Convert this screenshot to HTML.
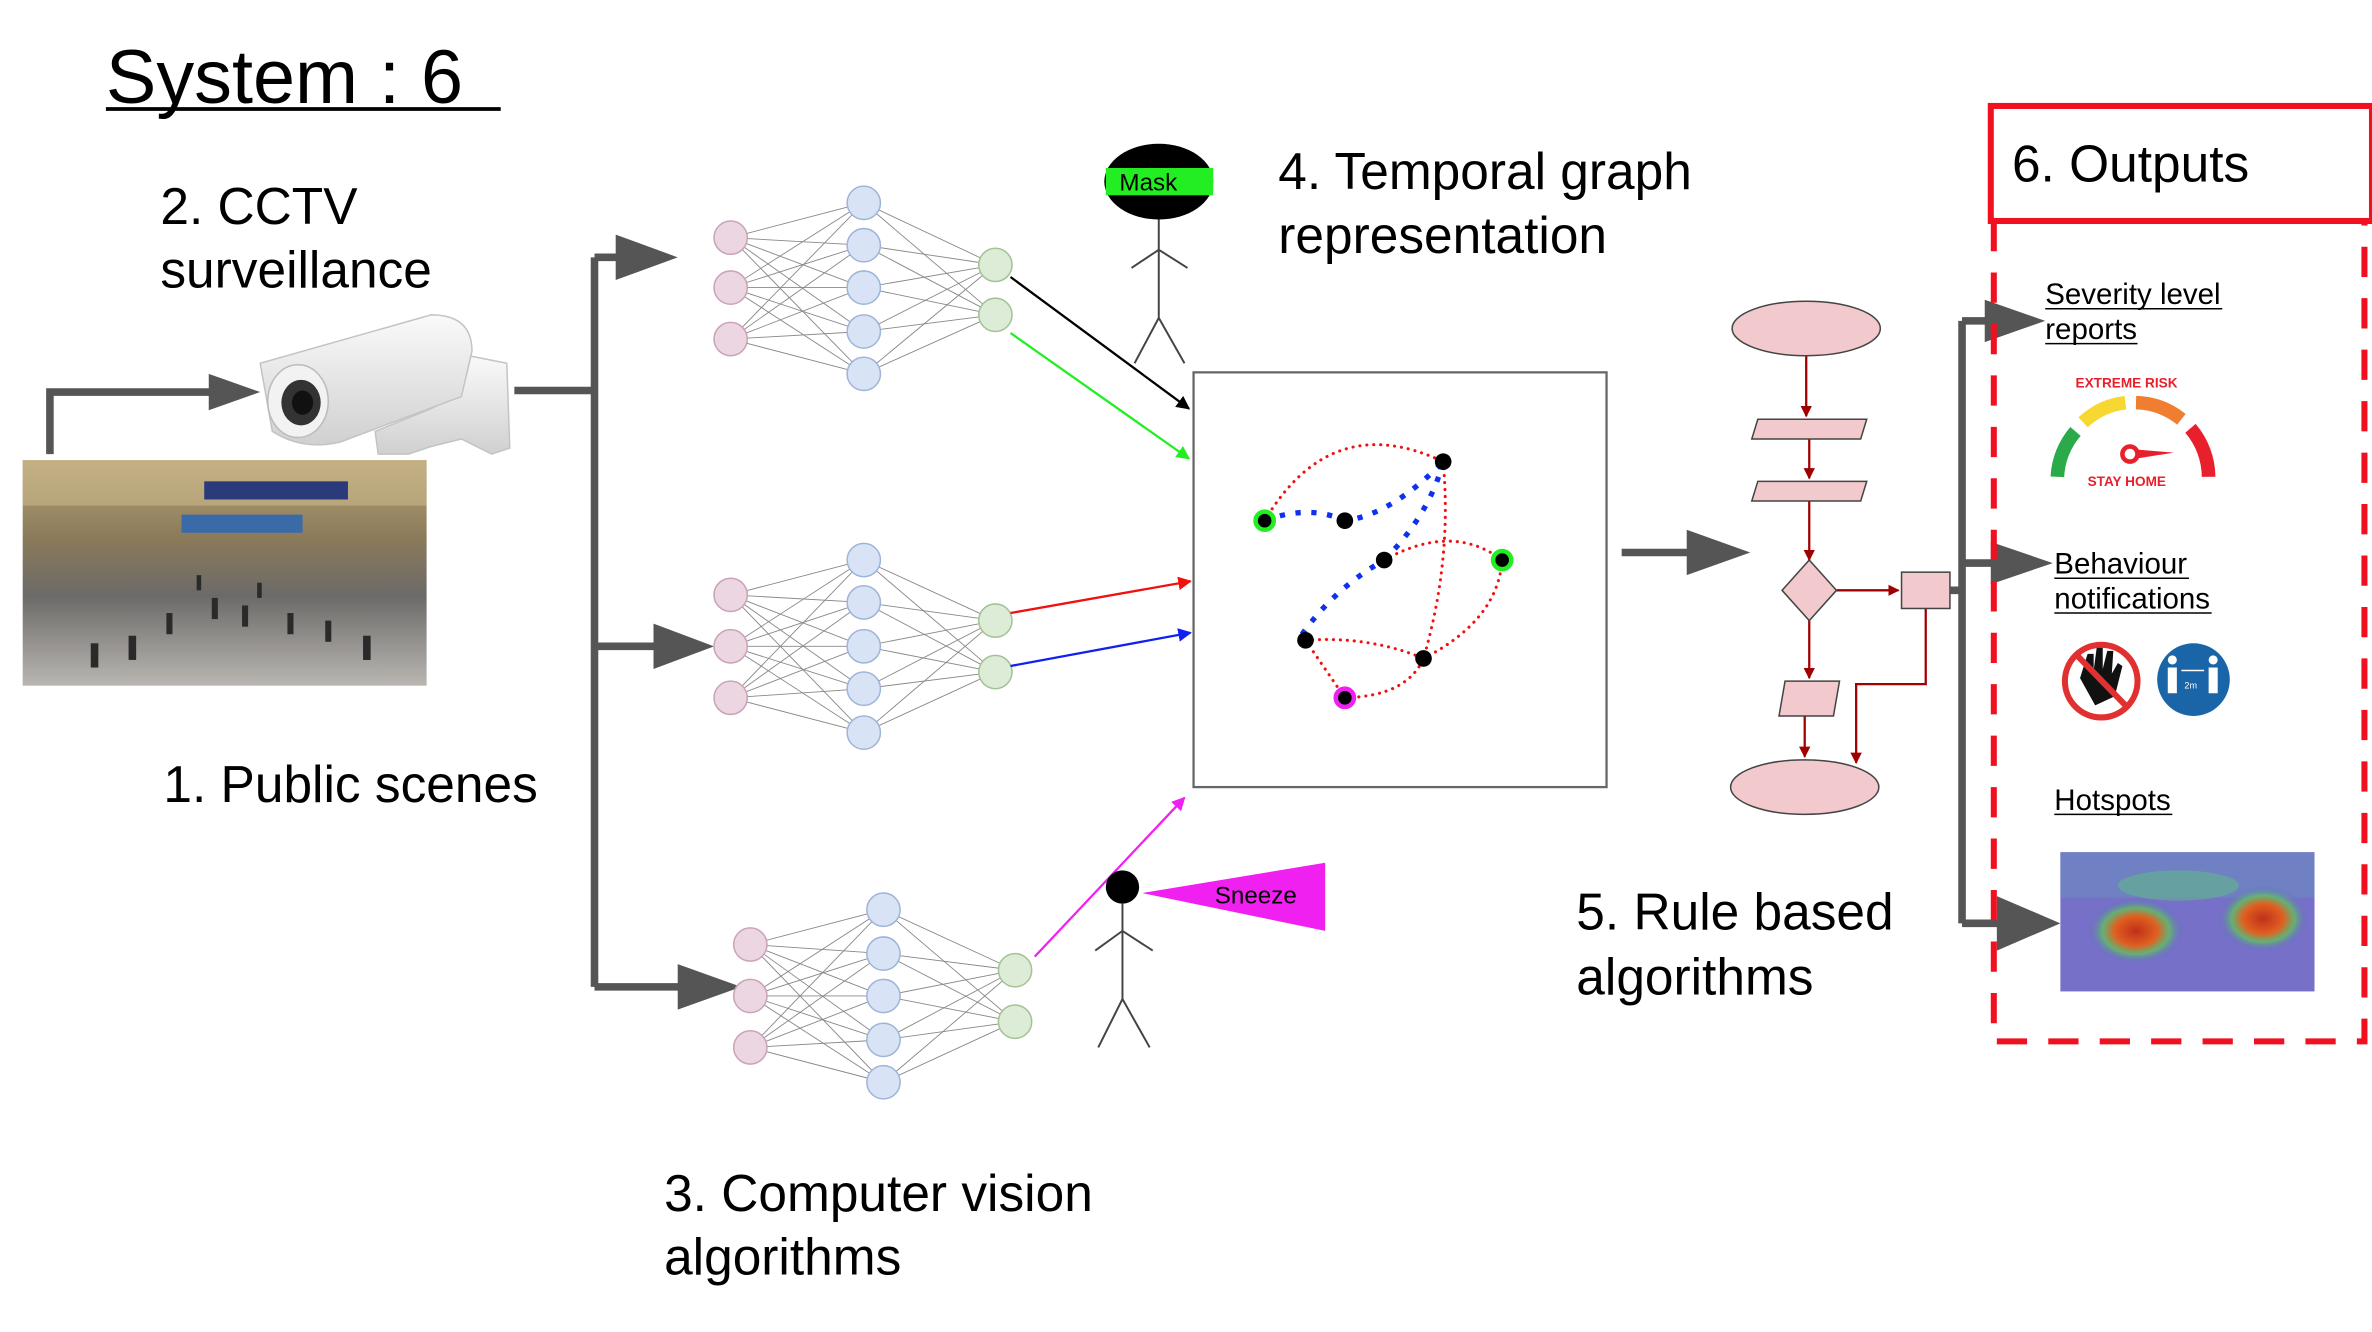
<!DOCTYPE html>
<html><head><meta charset="utf-8"><style>
html,body{margin:0;padding:0;background:#fff;}
svg{display:block;}
text{font-family:"Liberation Sans",Arial,sans-serif;}
</style></head><body>
<svg id="s" width="2372" height="1332" viewBox="0 0 1568 880" preserveAspectRatio="none" xmlns="http://www.w3.org/2000/svg">
<defs>
<linearGradient id="ph" x1="0" y1="0" x2="0" y2="1">
<stop offset="0" stop-color="#b8a477"/><stop offset="0.35" stop-color="#8a7a5a"/><stop offset="0.6" stop-color="#6c6a68"/><stop offset="1" stop-color="#b9b6b2"/></linearGradient>
<linearGradient id="cam" x1="0" y1="0" x2="0" y2="1"><stop offset="0" stop-color="#fafafa"/><stop offset="1" stop-color="#d0d0d0"/></linearGradient>
<radialGradient id="hot"><stop offset="0" stop-color="#c0301a"/><stop offset="0.45" stop-color="#e06020"/><stop offset="0.7" stop-color="#60c060" stop-opacity="0.8"/><stop offset="1" stop-color="#6060d0" stop-opacity="0"/></radialGradient>
<marker id="mk" viewBox="0 0 10 10" refX="9" refY="5" markerWidth="6" markerHeight="6" orient="auto"><path d="M0,0L10,5L0,10z" fill="context-stroke"/></marker>
<marker id="mr" viewBox="0 0 10 10" refX="9" refY="5" markerWidth="5" markerHeight="5" orient="auto"><path d="M0,0L10,5L0,10z" fill="#a00000"/></marker>
</defs>

<text x="70" y="68" font-size="50">System : 6</text>
<line x1="70" y1="72" x2="331" y2="72" stroke="#000" stroke-width="2.5"/>
<g font-size="34">
<text x="106" y="148">2. CCTV</text>
<text x="106" y="190">surveillance</text>
<text x="108" y="530">1. Public scenes</text>
<text x="845" y="125">4. Temporal graph</text>
<text x="845" y="167">representation</text>
<text x="1042" y="614">5. Rule based</text>
<text x="1042" y="657">algorithms</text>
<text x="439" y="800">3. Computer vision</text>
<text x="439" y="842">algorithms</text>
</g>

<rect x="15" y="304" width="267" height="149" fill="url(#ph)"/>
<rect x="15" y="304" width="267" height="30" fill="#c9b88a" opacity="0.6"/>
<rect x="135" y="318" width="95" height="12" fill="#2a3a7a"/>
<rect x="120" y="340" width="80" height="12" fill="#3a6aa8"/>
<g fill="#2a2a2a"><rect x="60" y="425" width="5" height="16"/><rect x="85" y="420" width="5" height="16"/><rect x="110" y="405" width="4" height="14"/><rect x="140" y="395" width="4" height="14"/><rect x="160" y="400" width="4" height="14"/><rect x="190" y="405" width="4" height="14"/><rect x="215" y="410" width="4" height="14"/><rect x="240" y="420" width="5" height="16"/><rect x="130" y="380" width="3" height="10"/><rect x="170" y="385" width="3" height="10"/></g>

<path d="M33,300 V259 H140" fill="none" stroke="#555" stroke-width="5"/>
<path d="M138,247 L172,259 L138,271z" fill="#555"/>
<path d="M310,235 L335,240 L337,296 L325,300 L305,290 L285,295 L270,300 L250,300 L248,285 L285,270 L300,262z" fill="url(#cam)" stroke="#c4c4c4"/>
<path d="M172,240 L285,208 Q312,208 312,232 L305,262 L225,292 Q200,298 180,285z" fill="url(#cam)" stroke="#c4c4c4"/>
<ellipse cx="197" cy="265" rx="20" ry="24" fill="#f2f2f2" stroke="#bbb"/>
<ellipse cx="199" cy="266" rx="13" ry="15" fill="#333"/>
<ellipse cx="200" cy="266" rx="7" ry="8" fill="#111"/>
<path d="M340,258 H393 M393,170 V652" fill="none" stroke="#555" stroke-width="5"/>
<path d="M393,170 H410 M393,427 H435 M393,652 H452" stroke="#555" stroke-width="5"/>
<path d="M407,155 L448,170 L407,185z M432,412 L472,427 L432,442z M448,637 L490,652 L448,667z" fill="#555"/>

<g id="nets"></g>

<line x1="668" y1="183" x2="786" y2="270" stroke="#000" stroke-width="1.5" marker-end="url(#mk)"/>
<line x1="668" y1="220" x2="786" y2="303" stroke="#22ee22" stroke-width="1.5" marker-end="url(#mk)"/>
<line x1="668" y1="405" x2="787" y2="384" stroke="#f01010" stroke-width="1.5" marker-end="url(#mk)"/>
<line x1="668" y1="440" x2="787" y2="418" stroke="#1020f0" stroke-width="1.5" marker-end="url(#mk)"/>
<line x1="684" y1="632" x2="783" y2="527" stroke="#f020f0" stroke-width="1.5" marker-end="url(#mk)"/>

<ellipse cx="766" cy="120" rx="36" ry="25" fill="#000"/>
<rect x="731" y="111" width="71" height="18" fill="#22ee22"/>
<text x="740" y="126" font-size="16">Mask</text>
<path d="M766,145V210 M748,177L766,165L785,177 M766,210L750,240 M766,210L783,240" stroke="#444" stroke-width="1.3" fill="none"/>
<circle cx="742" cy="586" r="11" fill="#000"/>
<path d="M742,597V660 M724,628L742,615L762,628 M742,660L726,692 M742,660L760,692" stroke="#444" stroke-width="1.3" fill="none"/>
<path d="M755,590L876,570L876,615z" fill="#f020f0"/>
<text x="803" y="597" font-size="16">Sneeze</text>

<rect x="789" y="246" width="273" height="274" fill="none" stroke="#666" stroke-width="1.5"/>
<g fill="none" stroke="#f01010" stroke-width="2" stroke-dasharray="0.1 4.5" stroke-linecap="round">
<path d="M836,344 Q880,270 954,305"/>
<path d="M954,305 Q960,370 941,435"/>
<path d="M915,370 Q960,345 993,370"/>
<path d="M993,370 Q990,410 941,435"/>
<path d="M863,423 Q905,420 941,435"/>
<path d="M863,423 L889,461"/>
<path d="M889,461 Q930,460 941,435"/>
</g>
<path d="M836,344 Q865,333 889,344 Q920,340 954,305 M954,305 Q945,340 915,370 Q880,390 858,423" fill="none" stroke="#1030f0" stroke-width="3.5" stroke-dasharray="3.5 7"/>
<circle cx="836" cy="344" r="6" fill="#000" stroke="#22ee22" stroke-width="3"/>
<circle cx="993" cy="370" r="6" fill="#000" stroke="#22ee22" stroke-width="3"/>
<circle cx="889" cy="461" r="6" fill="#000" stroke="#f020f0" stroke-width="3"/>
<g fill="#000"><circle cx="889" cy="344" r="5.5"/><circle cx="954" cy="305" r="5.5"/><circle cx="915" cy="370" r="5.5"/><circle cx="863" cy="423" r="5.5"/><circle cx="941" cy="435" r="5.5"/></g>

<line x1="1072" y1="365" x2="1120" y2="365" stroke="#555" stroke-width="5"/>
<path d="M1115,350L1157,365L1115,380z" fill="#555"/>

<g stroke="#a00000" stroke-width="1.5" fill="none">
<line x1="1194" y1="235" x2="1194" y2="275" marker-end="url(#mr)"/>
<line x1="1196" y1="290" x2="1196" y2="316" marker-end="url(#mr)"/>
<line x1="1196" y1="331" x2="1196" y2="370" marker-end="url(#mr)"/>
<line x1="1196" y1="410" x2="1196" y2="448" marker-end="url(#mr)"/>
<line x1="1193" y1="473" x2="1193" y2="500" marker-end="url(#mr)"/>
<line x1="1214" y1="390" x2="1255" y2="390" marker-end="url(#mr)"/>
<path d="M1273,402V452H1227V504" marker-end="url(#mr)"/>
</g>
<g fill="#f2c9cc" stroke="#444" stroke-width="1">
<ellipse cx="1194" cy="217" rx="49" ry="18"/>
<path d="M1162,277H1234L1230,290H1158z"/>
<path d="M1162,318H1234L1230,331H1158z"/>
<path d="M1196,370L1214,390L1196,410L1178,390z"/>
<path d="M1180,450H1216L1212,473H1176z"/>
<ellipse cx="1193" cy="520" rx="49" ry="18"/>
<rect x="1257" y="378" width="32" height="24"/>
</g>

<path d="M1289,390H1297 M1297,212V610 M1297,212H1320 M1297,372H1325 M1297,610H1330" stroke="#555" stroke-width="5" fill="none"/>
<path d="M1312,198L1352,212L1312,226z M1316,358L1357,372L1316,386z M1320,592L1362,610L1320,628z" fill="#555"/>

<rect x="1316" y="70" width="252" height="76" fill="none" stroke="#f01020" stroke-width="4"/>
<text x="1330" y="120" font-size="34">6. Outputs</text>
<path d="M1318,146V688H1563V146" fill="none" stroke="#f01020" stroke-width="4" stroke-dasharray="20 14"/>

<g font-size="19.5">
<text x="1352" y="201">Severity level</text><text x="1352" y="224">reports</text>
<text x="1358" y="379">Behaviour</text><text x="1358" y="402">notifications</text>
<text x="1358" y="535">Hotspots</text>
</g>
<g stroke="#000" stroke-width="1"><line x1="1352" y1="204" x2="1469" y2="204"/><line x1="1352" y1="227" x2="1413" y2="227"/><line x1="1358" y1="382" x2="1447" y2="382"/><line x1="1358" y1="405" x2="1462" y2="405"/><line x1="1358" y1="538" x2="1436" y2="538"/></g>

<text x="1372" y="256" font-size="9" font-weight="bold" fill="#e8202c">EXTREME RISK</text>
<g fill="none" stroke-width="9">
<path d="M1360,315 A50,50 0 0 1 1372,285" stroke="#2aaa48"/>
<path d="M1377,279 A50,50 0 0 1 1405,266" stroke="#f6d830"/>
<path d="M1412,266 A50,50 0 0 1 1442,277" stroke="#f07e30"/>
<path d="M1448,283 A50,50 0 0 1 1460,315" stroke="#e8202c"/>
</g>
<circle cx="1408" cy="300" r="5" fill="none" stroke="#e8202c" stroke-width="3"/>
<path d="M1412,297L1437,299L1412,303z" fill="#e8202c"/>
<text x="1380" y="321" font-size="9" font-weight="bold" fill="#e8202c">STAY HOME</text>

<circle cx="1389" cy="450" r="24" fill="#fff" stroke="#e03030" stroke-width="4"/>
<path d="M1375,448 L1380,432 L1384,432 L1384,443 L1386,428 L1390,428 L1390,442 L1393,430 L1397,430 L1396,445 L1400,438 L1403,440 L1398,460 L1385,466z" fill="#111"/>
<line x1="1373" y1="433" x2="1406" y2="467" stroke="#e03030" stroke-width="4"/>
<circle cx="1450" cy="449" r="24" fill="#1a64a8"/>
<g fill="#fff"><rect x="1433" y="441" width="6" height="17"/><circle cx="1436" cy="436" r="3"/><rect x="1460" y="441" width="6" height="17"/><circle cx="1463" cy="436" r="3"/></g>
<line x1="1442" y1="443" x2="1457" y2="443" stroke="#fff" stroke-width="1"/>
<text x="1444" y="455" font-size="6" fill="#fff">2m</text>

<rect x="1362" y="563" width="168" height="92" fill="#7670c8"/>
<rect x="1362" y="563" width="168" height="30" fill="#6a8ac0" opacity="0.6"/>
<ellipse cx="1412" cy="615" rx="32" ry="22" fill="url(#hot)"/>
<ellipse cx="1496" cy="607" rx="30" ry="22" fill="url(#hot)"/>
<ellipse cx="1440" cy="585" rx="40" ry="10" fill="#60c080" opacity="0.5"/>
</svg>
<script>
var ns="http://www.w3.org/2000/svg",g=document.getElementById("nets");
function el(t,a){var e=document.createElementNS(ns,t);for(var k in a)e.setAttribute(k,a[k]);g.appendChild(e);return e;}
function net(x0,x1,x2,A,B,C){
 A.forEach(function(a){B.forEach(function(b){el("line",{x1:x0,y1:a,x2:x1,y2:b,stroke:"#888","stroke-width":0.6});});});
 B.forEach(function(b){C.forEach(function(c){el("line",{x1:x1,y1:b,x2:x2,y2:c,stroke:"#888","stroke-width":0.6});});});
 A.forEach(function(a){el("circle",{cx:x0,cy:a,r:11,fill:"#ecd6e2",stroke:"#c9a3b8"});});
 B.forEach(function(b){el("circle",{cx:x1,cy:b,r:11,fill:"#d8e4f6",stroke:"#9fb4d8"});});
 C.forEach(function(c){el("circle",{cx:x2,cy:c,r:11,fill:"#dcecd6",stroke:"#a3c295"});});
}
net(483,571,658,[157,190,224],[134,162,190,219,247],[175,208]);
net(483,571,658,[393,427,461],[370,398,427,455,484],[410,444]);
net(496,584,671,[624,658,692],[601,630,658,687,715],[641,675]);
</script>
</body></html>
